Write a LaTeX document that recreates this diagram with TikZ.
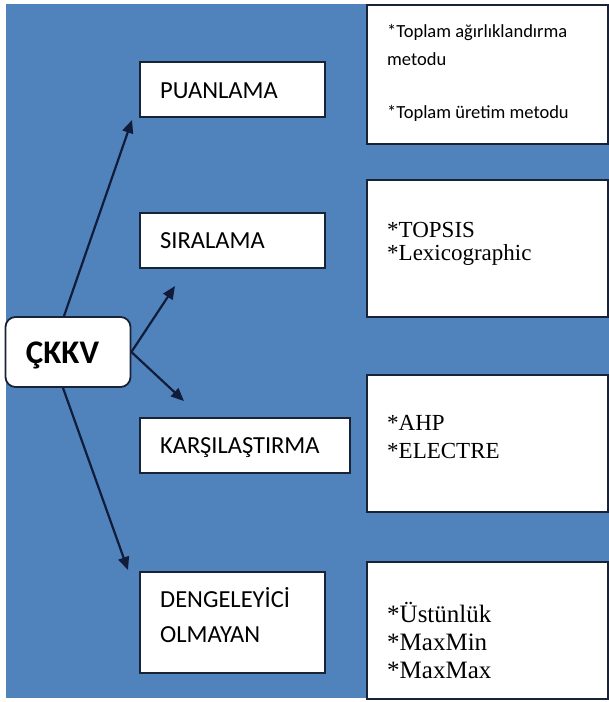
\documentclass[tikz,border=0pt]{standalone}
\usepackage{fontspec}
\usetikzlibrary{arrows.meta}
\newfontfamily\kutusans{Carlito}
\newfontfamily\kutuserif{Liberation Serif}
\definecolor{zeminmavi}{RGB}{80,130,188}
\definecolor{oklacivert}{RGB}{16,28,58}
\definecolor{kenarkoyu}{RGB}{25,35,55}
\tikzset{
  kutu/.style={draw=kenarkoyu, line width=1.8pt, fill=white, inner sep=0pt},
  yazi/.style={anchor=base west, inner sep=0pt, align=left},
  okcizgi/.style={draw=oklacivert, line width=2.2pt, -{Triangle[length=13pt,width=11pt]}}
}

\begin{document}
\begin{tikzpicture}[x=1pt,y=-1pt]
			%%%%% START %%%%%
			\useasboundingbox (0,0) rectangle (609,702);
			\fill[white] (0,0) rectangle (609,702);
			\fill[zeminmavi] (6,4) rectangle (609,698);
			
			% ana kutu
			\node[kutu, rounded corners=10pt, minimum width=125pt, minimum height=70pt] (ckkv) at (68,352) {};
			\node[anchor=base, inner sep=0pt, font=\kutusans\bfseries\fontsize{33}{34}\selectfont] (ckkv-t) at (62.5,363) {ÇKKV};
			
			% sol kutular
			\node[kutu, minimum width=185pt, minimum height=55pt] (puan) at (232.5,89.5) {};
			\node[kutu, minimum width=185pt, minimum height=55pt] (sira) at (232.5,240.5) {};
			\node[kutu, minimum width=210pt, minimum height=55pt] (kars) at (245,445.5) {};
			\node[kutu, minimum width=185pt, minimum height=101pt] (deng) at (232.5,622.5) {};
			
			\node[yazi, font=\kutusans\fontsize{24.5}{35}\selectfont] (puan-t) at (160,98) {PUANLAMA};
			\node[yazi, font=\kutusans\fontsize{24.5}{35}\selectfont] (sira-t) at (160,248) {SIRALAMA};
			\node[yazi, font=\kutusans\fontsize{24.5}{35}\selectfont] (kars-t) at (160,453.5) {KARŞILAŞTIRMA};
			\node[yazi, font=\kutusans\fontsize{24.5}{35}\selectfont] (deng-t) at (160,642) {DENGELEYİCİ\\OLMAYAN};
			
			% sag kutular
			\node[kutu, minimum width=241pt, minimum height=139pt] (yon1) at (487.5,74.5) {};
			\node[kutu, minimum width=241pt, minimum height=137pt] (yon2) at (487.5,248.5) {};
			\node[kutu, minimum width=241pt, minimum height=137pt] (yon3) at (487.5,443.5) {};
			\node[kutu, minimum width=241pt, minimum height=137pt] (yon4) at (487.5,630.5) {};
			
			\node[yazi, font=\kutusans\fontsize{18.5}{28}\selectfont] (yon1-t) at (387,118) {*Toplam ağırlıklandırma\\metodu\\[25pt]*Toplam üretim metodu};
			\node[yazi, font=\kutuserif\fontsize{23}{23}\selectfont] (yon2-t) at (387,260) {*TOPSIS\\*Lexicographic};
			\node[yazi, font=\kutuserif\fontsize{23}{28}\selectfont] (yon3-t) at (387,458) {*AHP\\*ELECTRE};
			\node[yazi, font=\kutuserif\fontsize{25}{28}\selectfont] (yon4-t) at (387,678) {*Üstünlük\\*MaxMin\\*MaxMax};
			
			% oklar
			\coordinate (uc1) at (132,120);
			\coordinate (uc2) at (175,286);
			\coordinate (uc3) at (184,401);
			\coordinate (uc4) at (128,570);
			\draw[okcizgi] ([xshift=-4pt]ckkv.north) -- (uc1);
			\draw[okcizgi] (ckkv.east) -- (uc2);
			\draw[okcizgi] (ckkv.east) -- (uc3);
			\draw[okcizgi] ([xshift=-5pt]ckkv.south) -- (uc4);
			%%%%% END %%%%%
\end{tikzpicture}
\end{document}
